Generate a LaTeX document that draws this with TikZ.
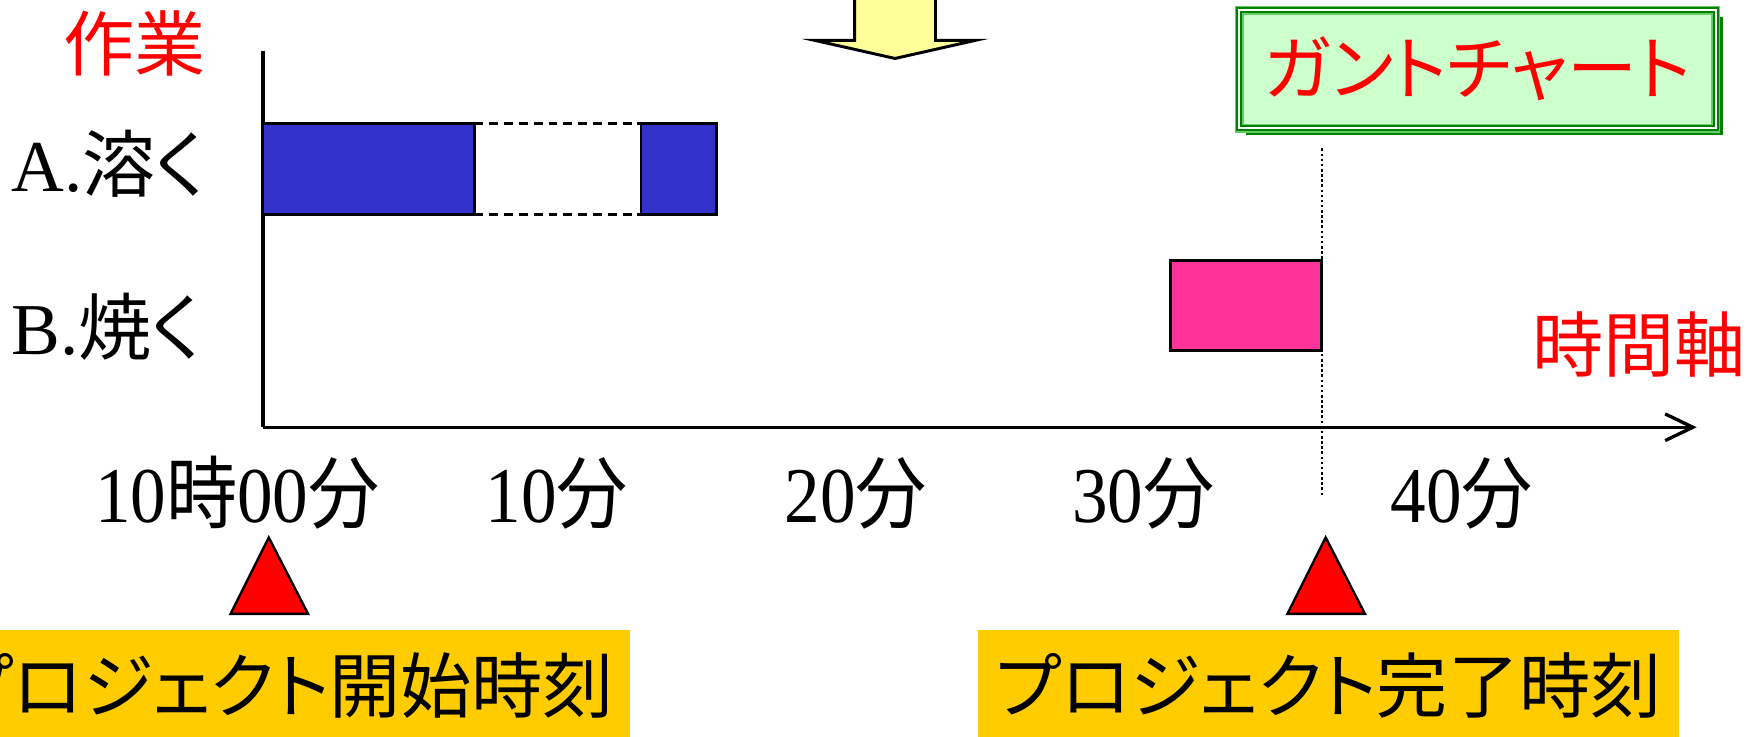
\documentclass[tikz,border=0pt]{standalone}
\usepackage{fontspec}
\setmainfont{Liberation Serif}
\newfontfamily\jp[RawFeature=+palt]{Noto Sans CJK JP}
\newfontfamily\tickfont[FakeStretch=0.9]{Liberation Serif}
\newfontfamily\tickjp[FakeStretch=0.9]{Noto Sans CJK JP}
\usetikzlibrary{arrows.meta,shadows}

\definecolor{taskblue}{HTML}{3333CC}
\definecolor{taskpink}{HTML}{FF3399}
\definecolor{noteyellow}{HTML}{FFCC00}
\definecolor{hintyellow}{HTML}{FFFF99}
\definecolor{gpale}{HTML}{CCFFCC}
\definecolor{gdark}{HTML}{008000}
\definecolor{glight}{HTML}{66CC66}

\tikzstyle{task}=[draw=black, line width=1.4pt]
\tikzstyle{wait}=[draw=black, line width=1.4pt, dash pattern=on 4.5pt off 3pt]
\tikzstyle{axis}=[draw=black, line width=1.7pt]
\tikzstyle{finish}=[draw=black, line width=1pt, dash pattern=on 1.3pt off 1.3pt]
\tikzstyle{hint}=[draw=black, line width=1.5pt, fill=hintyellow, line join=miter]
\tikzstyle{marker}=[draw=black, line width=1.2pt, fill=red, line join=miter]
\tikzstyle{redlabel}=[text=red, inner sep=0pt, font={\jp\fontsize{36pt}{40pt}\selectfont}]
\tikzstyle{tasklabel}=[inner sep=0pt, anchor=base west, font={\fontsize{37pt}{40pt}\selectfont}]
\tikzstyle{tick}=[inner sep=0pt, anchor=base, font={\tickfont\fontsize{40pt}{44pt}\selectfont}]
\tikzstyle{note}=[fill=noteyellow, inner sep=0pt, minimum height=2cm, font={\jp\fontsize{36pt}{40pt}\selectfont}]
\tikzstyle{gantt}=[fill=gpale, draw=glight, line width=4.5pt, inner sep=0pt,
  minimum width=8.48cm, minimum height=2.1cm, text=red,
  font={\jp\fontsize{35.5pt}{40pt}\selectfont},
  drop shadow={shadow xshift=3.5pt, shadow yshift=-3.5pt, fill=gdark, opacity=1},
  postaction={draw=gdark, line width=1.2pt, double=white, double distance=0.8pt}]

\begin{document}
\begin{tikzpicture}[x=0.02cm, y=-0.02cm, >={Straight Barb[length=14pt, width=13.5pt]}]
  \useasboundingbox (0,0) rectangle (1568,655);
  \clip (0,0) rectangle (1568,655);

  % arrow from the slide above
  \draw[hint] (760,-10) -- (760,36) -- (725,36) -- (796,52) -- (867,36) -- (832,36) -- (832,-10) -- cycle;

  % title
  \node[gantt] (title) at (1314,61.5) {ガントチャート};

  % axes
  \coordinate (origin) at (234,380);
  \coordinate (ytop) at (234,45);
  \coordinate (xend) at (1509,380);
  \draw[axis] (ytop) -- (origin);
  \draw[axis, ->] (origin) -- (xend);
  \node[redlabel] (work) at (120,39) {作業};
  \node[redlabel] (timeaxis) at (1458,306) {時間軸};

  % tasks
  \node[tasklabel] (taskA) at (10,170.5) {A.{\jp 溶く}};
  \node[tasklabel] (taskB) at (10,315.7) {B.{\jp 焼く}};
  \draw[task, fill=taskblue] (234,110) rectangle (422,191);
  \draw[wait] (422,110) -- (570,110) (422,191) -- (570,191);
  \draw[task, fill=taskblue] (570,110) rectangle (637,191);
  \draw[task, fill=taskpink] (1041,232) rectangle (1175,312);

  % finish line
  \coordinate (finishtop) at (1176,132);
  \coordinate (finishbot) at (1176,442);
  \draw[finish] (finishtop) -- (finishbot);

  % time ticks
  \node[tick] (t0) at (211,465) {10{\tickjp 時}00{\tickjp 分}};
  \foreach \m/\x in {10/495, 20/761, 30/1017, 40/1300}
    \node[tick] (t\m) at (\x,465) {\m{\tickjp 分}};

  % start and finish markers
  \foreach \x in {239,1179}
    \draw[marker] (\x-34,546) -- (\x,478) -- (\x+35,546) -- cycle;
  \node[note, minimum width=12.4cm] (startnote) at (250,610) {プロジェクト開始時刻};
  \node[note, minimum width=12.46cm] (endnote) at (1181.5,610) {プロジェクト完了時刻};
\end{tikzpicture}
\end{document}
